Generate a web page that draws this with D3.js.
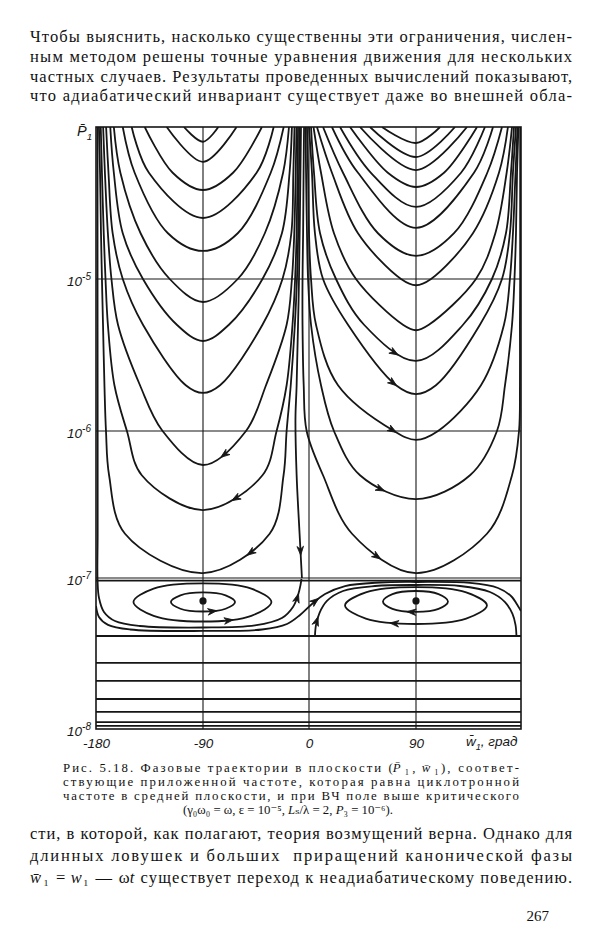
<!DOCTYPE html>
<html><head><meta charset="utf-8">
<script src="https://cdn.jsdelivr.net/npm/d3@7"></script>
<style>html,body{margin:0;padding:0;background:#fff}svg{display:block}</style>
</head><body><svg id="page" width="600" height="945"></svg>
<script>
// ---------------- data ----------------
const pLevels = [1e-4, 5e-5, 2e-5, 1e-5, 5e-6, 2e-6, 1e-6, 5e-7, 2e-7, 1e-7];

// left cell family (bottom at w1 = -90): bottom P and arm positions (w1, deg) at pLevels from the top
const leftCentreW = -90;
const leftBottomP = [8.0e-5, 5.9e-5, 3.85e-5, 2.52e-5, 1.53e-5, 7.06e-6, 3.91e-6, 1.78e-6, 5.87e-7, 2.90e-7, 1.08e-7];
const leftFamilyWLeft = [
  [-106],
  [-120.5],
  [-139, -115.5],
  [-150, -135.5],
  [-157.5, -147.5, -119.5],
  [-165, -159.5, -142.5, -118],
  [-168, -165, -157.5, -140.5, -112],
  [-171.5, -169.5, -166, -157.5, -140.5, -104.5],
  [-174, -172.5, -170, -167, -161.5, -143, -124],
  [-176, -175, -173.5, -172, -170, -164.5, -154, -141.5],
  [-177.5, -176.6, -175.8, -175, -174.1, -172.9, -171.6, -169, -155.6]
];
const leftFamilyWRight = [
  [-77],
  [-61.5],
  [-40, -64.5],
  [-30, -44.5],
  [-21.5, -32.5, -60.5],
  [-17, -22, -37.5, -60.5],
  [-14.5, -16.5, -23, -39.5, -68],
  [-12.3, -13.3, -15, -22.5, -39.5, -75.5],
  [-10.6, -11.3, -12.5, -14.5, -19, -36.5, -53.5],
  [-9.3, -9.8, -10.5, -11.8, -14, -19, -27.5, -39.5],
  [-8.1, -8.5, -9.2, -10.2, -12, -15.5, -19, -21.6, -33.4]
];

// right cell family (bottom at w1 = +90)
const rightCentreW = 90;
const rightBottomP = [7.85e-5, 6.35e-5, 5.21e-5, 4.03e-5, 2.98e-5, 2.17e-5, 1.42e-5, 9.1e-6, 4.6e-6, 2.89e-6, 1.75e-6, 8.7e-7, 3.44e-7, 1.08e-7];
const rightFamilyWLeft = [
  [61.4],
  [51.3],
  [42.9],
  [34.5, 66.3],
  [26.1, 52.1],
  [19.3, 41.2],
  [11.8, 28.6, 58.0],
  [6.7, 19.3, 41.2, 77.4],
  [3.8, 10.1, 21, 39.5, 79],
  [1.7, 4.2, 9.3, 22.7, 46.3],
  [0, 2.5, 5, 11.8, 32.8, 73.2],
  [-1.7, -0.8, 0, 1.7, 5.9, 24.4, 71.5],
  [-2.9, -2.5, -1.7, -0.8, 1.7, 10.1, 21, 42.9],
  [-4.2, -4.6, -5, -5.5, -5.5, -4.5, -2, 11.8, 36.2]
];
const rightFamilyWRight = [
  [110.6],
  [123.4],
  [133.7],
  [142.3, 114],
  [149.1, 128.6],
  [156, 139.7],
  [163.7, 151.1, 122.6],
  [168.8, 161.1, 138.8, 102.9],
  [172.3, 167.7, 158, 141.4, 101],
  [174, 171.4, 167.1, 155.1, 130.3],
  [175.7, 173.1, 170.5, 163.7, 144.8, 107.1],
  [177, 175.3, 173.1, 170.5, 165.4, 145.7, 108.9],
  [177.8, 176.6, 175.7, 174.4, 172.3, 166.3, 159.4, 136.3],
  [179.3, 179.3, 179.3, 179.3, 179.1, 179.1, 178.3, 172.3, 150.8]
];

// descending trajectory near w1 = 0
const sepDownW = [-6.8, -8.5, -10.5, -11.5, -10.5, -8, -6];
const sepDownP = [1e-4, 1e-5, 2e-6, 1.2e-6, 5e-7, 2e-7, 1e-7];
// trajectory along the left edge, under the left island, up at w1 ~ 0
const innerSepW = [-178.7, -178.7, -178.6, -178.6, -178.7, -177.5, -173.3, -164, -143, -90, -45.9, -23, -13.6, -9.3, -7.2, -6.4];
const innerSepP = [1e-4, 1e-5, 1e-6, 2e-7, 9.7e-8, 7.4e-8, 5.96e-8, 5.19e-8, 4.81e-8, 4.70e-8, 4.85e-8, 5.43e-8, 6.43e-8, 7.71e-8, 8.99e-8, 9.85e-8];
// rotating trajectory: under left island, over right island
const rotW = [-180, -177.5, -169.9, -151.4, -90, -39.9, -18.7, -7.6, 2.5, 13.5, 30.3, 59.7, 90, 136.3, 160.3, 171.4, 177.4, 180];
const rotP = [6.53e-8, 5.52e-8, 4.89e-8, 4.56e-8, 4.46e-8, 4.56e-8, 4.96e-8, 5.69e-8, 6.73e-8, 7.83e-8, 8.85e-8, 9.34e-8, 9.41e-8, 9.27e-8, 8.59e-8, 7.60e-8, 6.53e-8, 6.04e-8];
// arc over the right island resting on the lowest boundary line
const rightSepW = [5, 5.9, 8.8, 15.1, 28.6, 55.5, 90, 127.7, 153.4, 166.3, 172.7, 175.3, 176.1];
const rightSepP = [4.13e-8, 4.89e-8, 5.86e-8, 7.05e-8, 8.2e-8, 8.85e-8, 8.99e-8, 8.85e-8, 8.08e-8, 6.93e-8, 5.78e-8, 4.89e-8, 4.13e-8];

// closed orbits (islands)
const islandLeftInner  = [[-62.8, 6.93e-8], [-70.8, 7.67e-8], [-90, 8.02e-8], [-109, 7.67e-8], [-117, 6.93e-8], [-109, 6.26e-8], [-90, 6.0e-8], [-70.8, 6.26e-8]];
const islandLeftOuter  = [[-31.9, 6.93e-8], [-49, 8.5e-8], [-90, 9.2e-8], [-131.5, 8.5e-8], [-148.5, 6.93e-8], [-131.5, 5.62e-8], [-90, 5.15e-8], [-49, 5.62e-8]];
const islandRightInner = [[117.4, 6.99e-8], [109.3, 7.82e-8], [90, 8.2e-8], [70.2, 7.82e-8], [62.2, 6.99e-8], [70.2, 6.24e-8], [90, 5.96e-8], [109.3, 6.24e-8]];
const islandRightOuter = [[150.8, 6.58e-8], [133, 8.03e-8], [90, 8.71e-8], [47.8, 8.03e-8], [30.3, 6.58e-8], [47.8, 5.38e-8], [90, 4.96e-8], [133, 5.38e-8]];
const fixedW = [-90, 90];
const fixedP = [7.05e-8, 7.05e-8];

// unperturbed (flat) trajectories
const flatP = [9.6e-8, 4.13e-8, 2.74e-8, 2.08e-8, 1.58e-8, 1.30e-8, 1.11e-8, 1.05e-8];

// grid, ticks
const gridW = [-90, 0, 90];
const gridP = [1e-5, 1e-6, 1e-7];
const xTicks = [-180, -90, 0, 90];
const xTickLabels = ["-180", "-90", "0", "90"];
const yTicks = [1e-5, 1e-6, 1e-7, 1e-8];
const yTickExp = ["-5", "-6", "-7", "-8"];

// direction arrows: curve, point near (w, P), direction along drawing order
const arrows = [
  {c: "L9", w: -73, p: 6.35e-7, dir: -1},
  {c: "L10", w: -64.5, p: 3.24e-7, dir: -1},
  {c: "L11", w: -51.8, p: 1.39e-7, dir: -1},
  {c: "R10", w: 74, p: 3.07e-6, dir: 1},
  {c: "R11", w: 72.3, p: 1.92e-6, dir: 1},
  {c: "R12", w: 70.6, p: 8.96e-7, dir: 1},
  {c: "R13", w: 62.2, p: 3.67e-7, dir: 1},
  {c: "R14", w: 57.2, p: 1.23e-7, dir: 1},
  {c: "sep", w: -6, p: 1.43e-7, dir: 1},
  {c: "inner", w: -9.3, p: 7.9e-8, dir: 1},
  {c: "iLi", w: -78, p: 6.0e-8, dir: 1},
  {c: "iLo", w: -64.6, p: 5.35e-8, dir: 1},
  {c: "rot", w: 9.3, p: 7.15e-8, dir: 1},
  {c: "rsep", w: 7.6, p: 5.52e-8, dir: 1},
  {c: "iRi", w: 82.4, p: 6.0e-8, dir: -1},
  {c: "iRo", w: 68.1, p: 5.03e-8, dir: -1}
];

// page text
const para1 = [
  "Чтобы выяснить, насколько существенны эти  ограничения, числен-",
  "ным методом решены точные уравнения движения для нескольких",
  "частных случаев. Результаты проведенных вычислений показывают,",
  "что адиабатический инвариант существует даже во внешней обла-"
];
const captionLines = [
  [["Рис. 5.18. Фазовые траектории в плоскости (", ""], ["P\u0304", "i"], ["\u2081, ", ""], ["w\u0304", "i"], ["\u2081), соответ-", ""]],
  [["ствующие приложенной частоте, которая равна циклотронной", ""]],
  [["частоте в средней плоскости, и при ВЧ поле выше критического", ""]],
  [["(γ\u2080ω\u2080 = ω, ε = 10\u207B\u2075, ", ""], ["L", "i"], ["\u209B/λ = 2, ", ""], ["P", "i"], ["\u2083 = 10\u207B\u2076).", ""]]
];
const para2 = [
  [["сти, в которой, как полагают, теория возмущений верна. Однако для", ""]],
  [["длинных ловушек и больших  приращений канонической фазы", ""]],
  [["w\u0304", "i"], ["\u2081 = ", ""], ["w", "i"], ["\u2081 — ω", ""], ["t", "i"], [" существует переход к неадиабатическому поведению.", ""]]
];
const pageNumber = "267";

// ---------------- drawing ----------------
const svg = d3.select("#page");
const ink = "#161616";
const x = d3.scaleLinear().domain([-180, -90, 0, 90, 180]).range([96, 203, 309, 416, 521]);
const y = d3.scaleLog().domain([1e-8, 1e-7, 1e-6, 1e-5, 1e-4]).range([729, 578, 431, 279, 127]);
const L = x(-180), R = x(180), T = y(1e-4), B = y(1e-8);

svg.append("defs").append("clipPath").attr("id", "clip")
  .append("rect").attr("x", L).attr("y", T).attr("width", R - L).attr("height", B - T);

// grid
const grid = svg.append("g").attr("stroke", ink).attr("stroke-width", 1.1);
gridW.forEach(w => grid.append("line").attr("x1", x(w)).attr("x2", x(w)).attr("y1", T).attr("y2", B));
gridP.forEach(p => grid.append("line").attr("x1", L).attr("x2", R).attr("y1", y(p)).attr("y2", y(p)));

const curves = svg.append("g").attr("clip-path", "url(#clip)")
  .attr("fill", "none").attr("stroke", ink).attr("stroke-width", 1.8).attr("stroke-linejoin", "round");
const line = d3.line().x(d => x(d[0])).y(d => y(d[1])).curve(d3.curveCatmullRom.alpha(0.5));
const lineClosed = d3.line().x(d => x(d[0])).y(d => y(d[1])).curve(d3.curveCatmullRomClosed.alpha(0.5));
const paths = {};
function add(name, pts, closed) {
  paths[name] = curves.append("path").attr("d", (closed ? lineClosed : line)(pts)).node();
}
function uCurve(centre, pb, wl, wr) {
  const pts = wl.map((w, i) => [w, pLevels[i]]);
  pts.push([centre, pb]);
  for (let i = wr.length - 1; i >= 0; i--) pts.push([wr[i], pLevels[i]]);
  return pts;
}
const zip = (a, b) => a.map((v, i) => [v, b[i]]);

leftBottomP.forEach((pb, i) => add("L" + (i + 1), uCurve(leftCentreW, pb, leftFamilyWLeft[i], leftFamilyWRight[i])));
rightBottomP.forEach((pb, i) => add("R" + (i + 1), uCurve(rightCentreW, pb, rightFamilyWLeft[i], rightFamilyWRight[i])));
add("sep", zip(sepDownW, sepDownP));
add("inner", zip(innerSepW, innerSepP));
add("rot", zip(rotW, rotP));
add("rsep", zip(rightSepW, rightSepP));
add("iLi", islandLeftInner, true);
add("iLo", islandLeftOuter, true);
add("iRi", islandRightInner, true);
add("iRo", islandRightOuter, true);
flatP.forEach((p, i) => add("H" + i, [[-180, p], [180, p]]));

// fixed points
svg.append("g").selectAll("circle").data(fixedW).join("circle")
  .attr("cx", d => x(d)).attr("cy", (d, i) => y(fixedP[i])).attr("r", 3.6).attr("fill", ink);

// arrows
const arrowG = svg.append("g").attr("fill", ink).attr("stroke", ink).attr("stroke-width", 0.8).attr("stroke-linejoin", "round");
arrows.forEach(a => {
  const node = paths[a.c];
  const len = node.getTotalLength();
  const tx = x(a.w), ty = y(a.p);
  let best = 0, bd = Infinity;
  for (let s = 0; s <= len; s += 0.5) {
    const pt = node.getPointAtLength(s);
    const d = (pt.x - tx) ** 2 + (pt.y - ty) ** 2;
    if (d < bd) { bd = d; best = s; }
  }
  const p0 = node.getPointAtLength(Math.max(0, best - 2));
  const p1 = node.getPointAtLength(Math.min(len, best + 2));
  let ang = Math.atan2(p1.y - p0.y, p1.x - p0.x) * 180 / Math.PI;
  if (a.dir < 0) ang += 180;
  const pt = node.getPointAtLength(best);
  arrowG.append("path").attr("d", "M0,0 L-9,-3.3 L-6.2,0 L-9,3.3 Z")
    .attr("transform", `translate(${pt.x},${pt.y}) rotate(${ang})`);
});

// frame
svg.append("rect").attr("x", L).attr("y", T).attr("width", R - L).attr("height", B - T)
  .attr("fill", "none").attr("stroke", ink).attr("stroke-width", 1.6);

// axes (labels only)
const axisFont = "'Liberation Sans', Arial, sans-serif";
const xAxis = svg.append("g").attr("transform", `translate(0,${B})`)
  .call(d3.axisBottom(x).tickValues(xTicks).tickSize(0).tickPadding(9).tickFormat((d, i) => xTickLabels[i]));
xAxis.select(".domain").remove();
xAxis.selectAll("text").attr("font-family", axisFont).attr("font-style", "italic").attr("font-size", 13.5).attr("fill", ink);

const yAxis = svg.append("g").attr("transform", `translate(${L},0)`)
  .call(d3.axisLeft(y).tickValues(yTicks).tickSize(0).tickPadding(5).tickFormat(() => "10"));
yAxis.select(".domain").remove();
yAxis.selectAll("text").attr("font-family", axisFont).attr("font-style", "italic").attr("font-size", 13.5).attr("fill", ink)
  .attr("dy", "0.45em")
  .each(function (d, i) {
    d3.select(this).append("tspan").attr("dy", "-0.6em").attr("font-size", 10).text(yTickExp[i]);
  });

function rich(sel, segs, size) {
  let shift = 0;
  sel.attr("xml:space", "preserve").style("white-space", "pre");
  segs.forEach(([t, k]) => {
    const ts = sel.append("tspan").text(t);
    let target = 0;
    if (k.indexOf("sub") >= 0) target = size * 0.3;
    if (k.indexOf("sup") >= 0) target = -size * 0.4;
    if (target - shift !== 0) ts.attr("dy", target - shift);
    shift = target;
    if (target !== 0) ts.attr("font-size", size * 0.68);
    if (k === "i" || k === "isub") ts.attr("font-style", "italic");
  });
}
// a justified line made of separate text pieces laid end to end; spare width shared by character count
function segLine(parent, x0, yb, width, segs, size) {
  const els = segs.map(([t, k]) => {
    const e = parent.append("text").attr("y", yb).attr("font-size", size)
      .attr("xml:space", "preserve").style("white-space", "pre").text(t);
    if (k === "i") e.attr("font-style", "italic");
    return e;
  });
  const widths = els.map(e => e.node().getComputedTextLength());
  const extra = width - d3.sum(widths);
  const nChars = d3.sum(segs, s => s[0].length);
  let cx = x0;
  els.forEach((e, i) => {
    const w = widths[i] + extra * segs[i][0].length / nChars;
    e.attr("x", cx).attr("textLength", w).attr("lengthAdjust", "spacing");
    cx += w;
  });
}

// axis titles
const yTitle = svg.append("text").attr("x", 77).attr("y", 136).attr("font-family", axisFont).attr("font-size", 14.5).attr("fill", ink);
rich(yTitle, [["P\u0304", "i"], ["1", "isub"]], 14.5);
const xTitle = svg.append("text").attr("x", 466).attr("y", 746).attr("font-family", axisFont).attr("font-size", 13.5).attr("font-style", "italic").attr("fill", ink);
rich(xTitle, [["w\u0304", "i"], ["1", "isub"], [", град", "i"]], 13.5);

// page text
const serif = "'Liberation Serif', 'DejaVu Serif', serif";
const textG = svg.append("g").attr("font-family", serif).attr("fill", "#111");
[42, 62, 82, 101].forEach((yb, i) => {
  textG.append("text").attr("x", 30).attr("y", yb).attr("font-size", 16.5)
    .attr("textLength", 542).attr("lengthAdjust", "spacing").text(para1[i]);
});
[772, 786, 800, 814].forEach((yb, i) => {
  if (i < 3) segLine(textG, 63, yb, 456, captionLines[i], 12.8);
  else {
    const t = textG.append("text").attr("y", yb).attr("font-size", 12.8).attr("x", 288).attr("text-anchor", "middle");
    rich(t, captionLines[i], 12.8);
  }
});
[839, 861, 883].forEach((yb, i) => segLine(textG, 30, yb, 542, para2[i], 16.5));
textG.append("text").attr("x", 549).attr("y", 921).attr("font-size", 15).attr("text-anchor", "end").text(pageNumber);
</script></body></html>
